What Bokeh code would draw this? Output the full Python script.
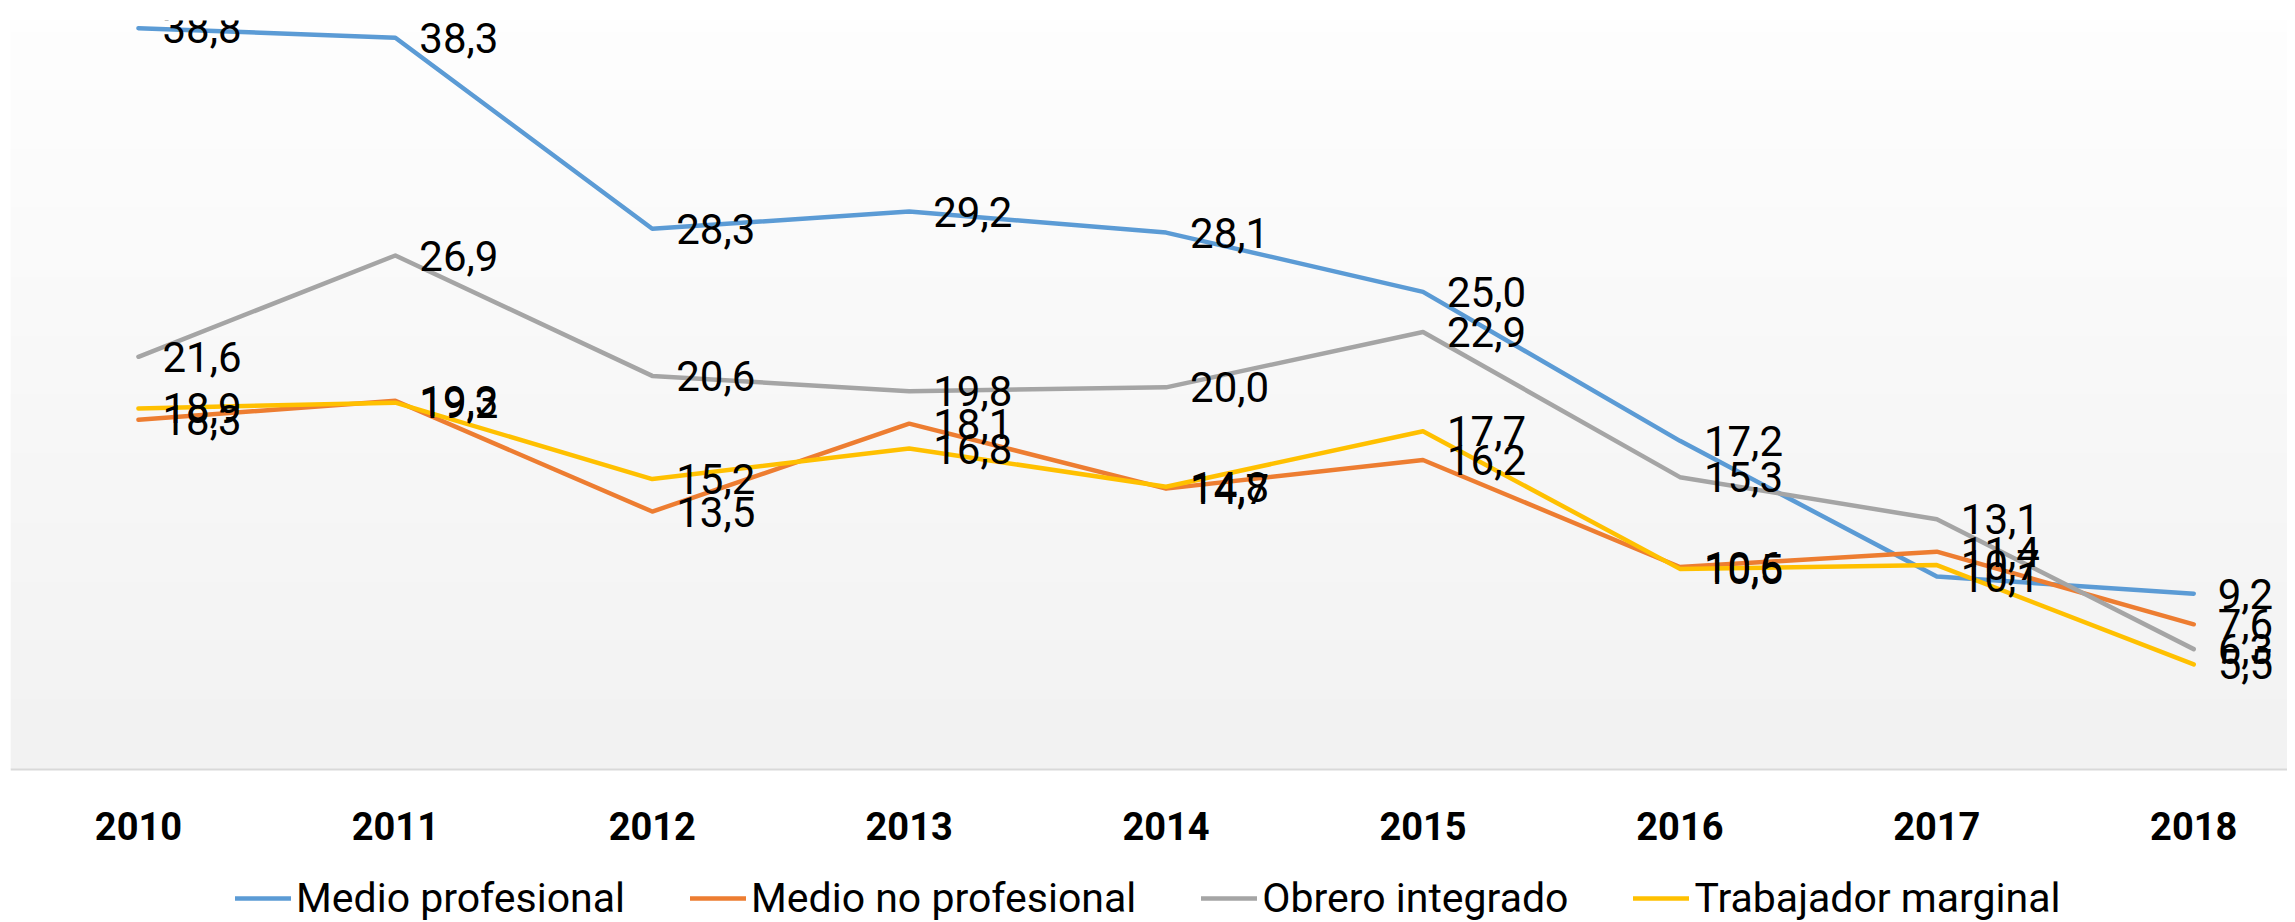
import numpy as np
from bokeh.plotting import figure
from bokeh.models import Legend, LegendItem, FixedTicker, Range1d
from bokeh.core.properties import value
from bokeh.embed import file_html
from bokeh.resources import INLINE

years = [2010, 2011, 2012, 2013, 2014, 2015, 2016, 2017, 2018]
medio_profesional = [38.8, 38.3, 28.3, 29.2, 28.1, 25.0, 17.2, 10.1, 9.2]
medio_no_profesional = [18.3, 19.3, 13.5, 18.1, 14.7, 16.2, 10.6, 11.4, 7.6]
obrero_integrado = [21.6, 26.9, 20.6, 19.8, 20.0, 22.9, 15.3, 13.1, 6.3]
trabajador_marginal = [18.9, 19.2, 15.2, 16.8, 14.8, 17.7, 10.5, 10.7, 5.5]

names = ["Medio profesional", "Medio no profesional", "Obrero integrado", "Trabajador marginal"]
colors = ["#5B9BD5", "#ED7D31", "#A5A5A5", "#FFC000"]
all_series = [medio_profesional, medio_no_profesional, obrero_integrado, trabajador_marginal]

FONT = "Roboto"
X0, X1 = 2009.502, 2018.365
PLOT_TOP = 39.2
Y0, Y1 = -8.007, PLOT_TOP

p = figure(frame_width=2277, frame_height=902,
           x_range=Range1d(X0, X1), y_range=Range1d(Y0, Y1),
           output_backend="svg", toolbar_location=None, y_axis_location=None,
           min_border_left=10, min_border_right=0, min_border_top=20, min_border_bottom=0,
           background_fill_color="white", border_fill_color="white", outline_line_color=None)

# vertical gradient background of the plot area (from the 0 baseline to the top)
N = 64
img = np.empty((N, 1), dtype=np.uint32)
view = img.view(dtype=np.uint8).reshape((N, 1, 4))
shade = np.linspace(242, 254, N).astype(np.uint8)
view[:, 0, 0] = shade
view[:, 0, 1] = shade
view[:, 0, 2] = shade
view[:, 0, 3] = 255
p.image_rgba(image=[img], x=X0, y=0, dw=X1 - X0, dh=PLOT_TOP)

renderers = []
for name, vals, col in zip(names, all_series, colors):
    r = p.line(years, vals, line_color=col, line_width=4.5, line_cap="round", line_join="round")
    renderers.append(r)

for vals in all_series:
    labels = [f"{v:.1f}".replace(".", ",") for v in vals]
    p.text(x=years, y=vals, text=labels, x_offset=24, text_align="left",
           text_baseline="middle", text_font=value(FONT), text_font_size="42px",
           text_color="black")

p.xgrid.visible = False
p.ygrid.visible = False
ax = p.xaxis[0]
ax.fixed_location = 0
ax.ticker = FixedTicker(ticks=years)
ax.major_tick_line_color = None
ax.minor_tick_line_color = None
ax.axis_line_color = "#D9D9D9"
ax.axis_line_width = 2
ax.major_label_text_font = FONT
ax.major_label_text_font_style = "bold"
ax.major_label_text_font_size = "38px"
ax.major_label_text_color = "black"
ax.major_label_standoff = 36

legend = Legend(items=[LegendItem(label=n, renderers=[r]) for n, r in zip(names, renderers)],
                orientation="horizontal", location=(225, 0))
legend.label_text_font = FONT
legend.label_text_font_size = "41px"
legend.label_text_color = "black"
legend.glyph_width = 56
legend.glyph_height = 20
legend.label_standoff = 5
legend.spacing = 65
legend.padding = 0
legend.margin = 0
legend.border_line_color = None
legend.background_fill_alpha = 0
p.add_layout(legend, "center")

open("out.html", "w").write(file_html(p, INLINE))
